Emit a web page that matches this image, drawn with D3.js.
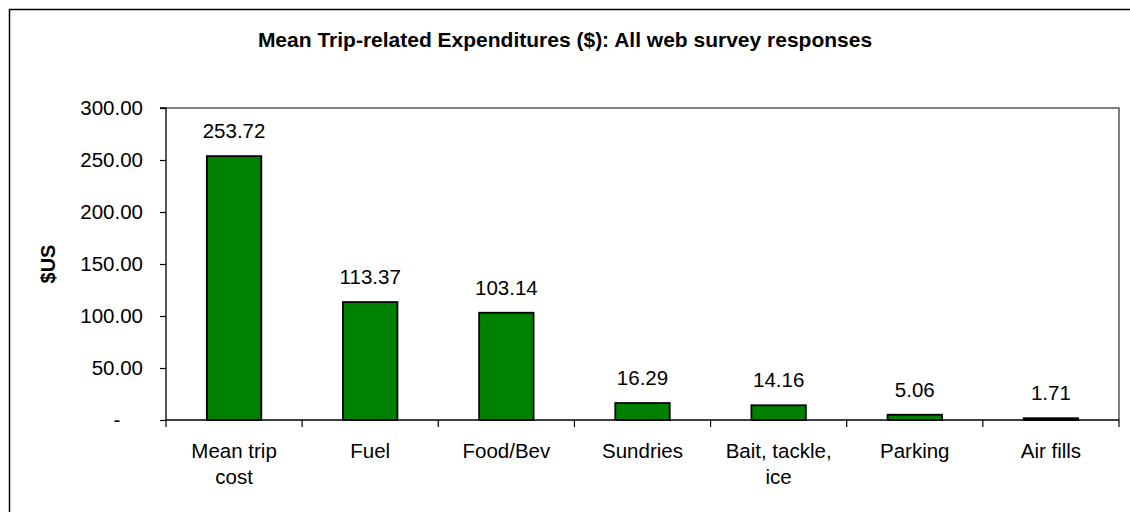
<!DOCTYPE html>
<html>
<head>
<meta charset="utf-8">
<script src="https://cdn.jsdelivr.net/npm/d3@7"></script>
<style>
  body { margin: 0; background: #fff; }
  svg { display: block; font-family: "Liberation Sans", Arial, sans-serif; }
</style>
</head>
<body>
<svg id="chart" width="1130" height="512"></svg>
<script>
const categories = ["Mean trip|cost", "Fuel", "Food/Bev", "Sundries", "Bait, tackle,|ice", "Parking", "Air fills"];
const values = [253.72, 113.37, 103.14, 16.29, 14.16, 5.06, 1.71];
const yTicks = [0, 50, 100, 150, 200, 250, 300];
const yTickLabels = ["-", "50.00", "100.00", "150.00", "200.00", "250.00", "300.00"];
const title = "Mean Trip-related Expenditures ($): All web survey responses";
const yTitle = "$US";

const svg = d3.select("#chart");
const plot = { left: 166, right: 1119, top: 108, bottom: 420 };
const FS = 20.5;

// outer border (cropped at right/bottom)
svg.append("rect").attr("x", 9.5).attr("y", 9.5).attr("width", 1130).attr("height", 520)
  .attr("fill", "none").attr("stroke", "#000").attr("stroke-width", 1.5);

svg.append("text").attr("x", 565).attr("y", 47).attr("text-anchor", "middle")
  .attr("font-size", 21).attr("font-weight", "bold").text(title);

const x = d3.scaleBand().domain(categories).range([plot.left, plot.right]).paddingInner(0.6).paddingOuter(0.3);
const xOuter = d3.scaleBand().domain(categories).range([plot.left, plot.right]).padding(0);
const y = d3.scaleLinear().domain([0, 300]).range([plot.bottom, plot.top]);

// plot frame (gray top/right)
svg.append("path")
  .attr("d", `M${plot.left},${plot.top}H${plot.right}V${plot.bottom}`)
  .attr("fill", "none").attr("stroke", "#808080").attr("stroke-width", 2);

// bars
svg.selectAll("rect.bar").data(values).enter().append("rect")
  .attr("class", "bar")
  .attr("x", (d, i) => x(categories[i]))
  .attr("width", x.bandwidth())
  .attr("y", d => y(d))
  .attr("height", d => y(0) - y(d))
  .attr("fill", "#008000").attr("stroke", "#000").attr("stroke-width", 1.8);

// value labels
svg.selectAll("text.val").data(values).enter().append("text")
  .attr("class", "val")
  .attr("x", (d, i) => x(categories[i]) + x.bandwidth() / 2)
  .attr("y", d => y(d) - 18)
  .attr("text-anchor", "middle").attr("font-size", FS)
  .text(d => d.toFixed(2));

// y axis
const yAxis = d3.axisLeft(y).tickValues(yTicks).tickSize(6).tickFormat((d, i) => yTickLabels[i]).tickPadding(17);
const gy = svg.append("g").attr("transform", `translate(${plot.left},0)`).call(yAxis);
gy.select(".domain").attr("stroke", "#000").attr("stroke-width", 1.3).attr("d", `M-6,${plot.top}H0V${plot.bottom}`);
gy.selectAll(".tick line").attr("stroke", "#000").attr("stroke-width", 1.2);
gy.selectAll(".tick text").attr("font-size", FS).attr("fill", "#000").attr("font-family", "Liberation Sans, Arial, sans-serif");
gy.selectAll(".tick text").filter(d => d === 0).attr("text-anchor", "middle").attr("x", -49);

// x axis with ticks at category boundaries
const boundaries = categories.map(c => xOuter(c)).concat([plot.right]);
svg.append("line").attr("x1", plot.left).attr("x2", plot.right).attr("y1", plot.bottom).attr("y2", plot.bottom)
  .attr("stroke", "#000").attr("stroke-width", 1.3);
svg.selectAll("line.xt").data(boundaries).enter().append("line")
  .attr("class", "xt")
  .attr("x1", d => d).attr("x2", d => d).attr("y1", plot.bottom).attr("y2", plot.bottom + 7)
  .attr("stroke", "#000").attr("stroke-width", 1.2);

// category labels
const cl = svg.selectAll("text.cat").data(categories).enter().append("text")
  .attr("class", "cat")
  .attr("text-anchor", "middle").attr("font-size", FS)
  .attr("x", d => xOuter(d) + xOuter.bandwidth() / 2)
  .attr("y", 458);
cl.each(function(d) {
  const lines = d.split("|");
  const t = d3.select(this);
  const cx = +t.attr("x");
  lines.forEach((ln, i) => t.append("tspan").attr("x", cx).attr("dy", i === 0 ? 0 : 26).text(ln));
});

// y title
svg.append("text").attr("transform", "translate(55,264) rotate(-90)")
  .attr("text-anchor", "middle").attr("font-size", 20).attr("font-weight", "bold").text(yTitle);
</script>
</body>
</html>
